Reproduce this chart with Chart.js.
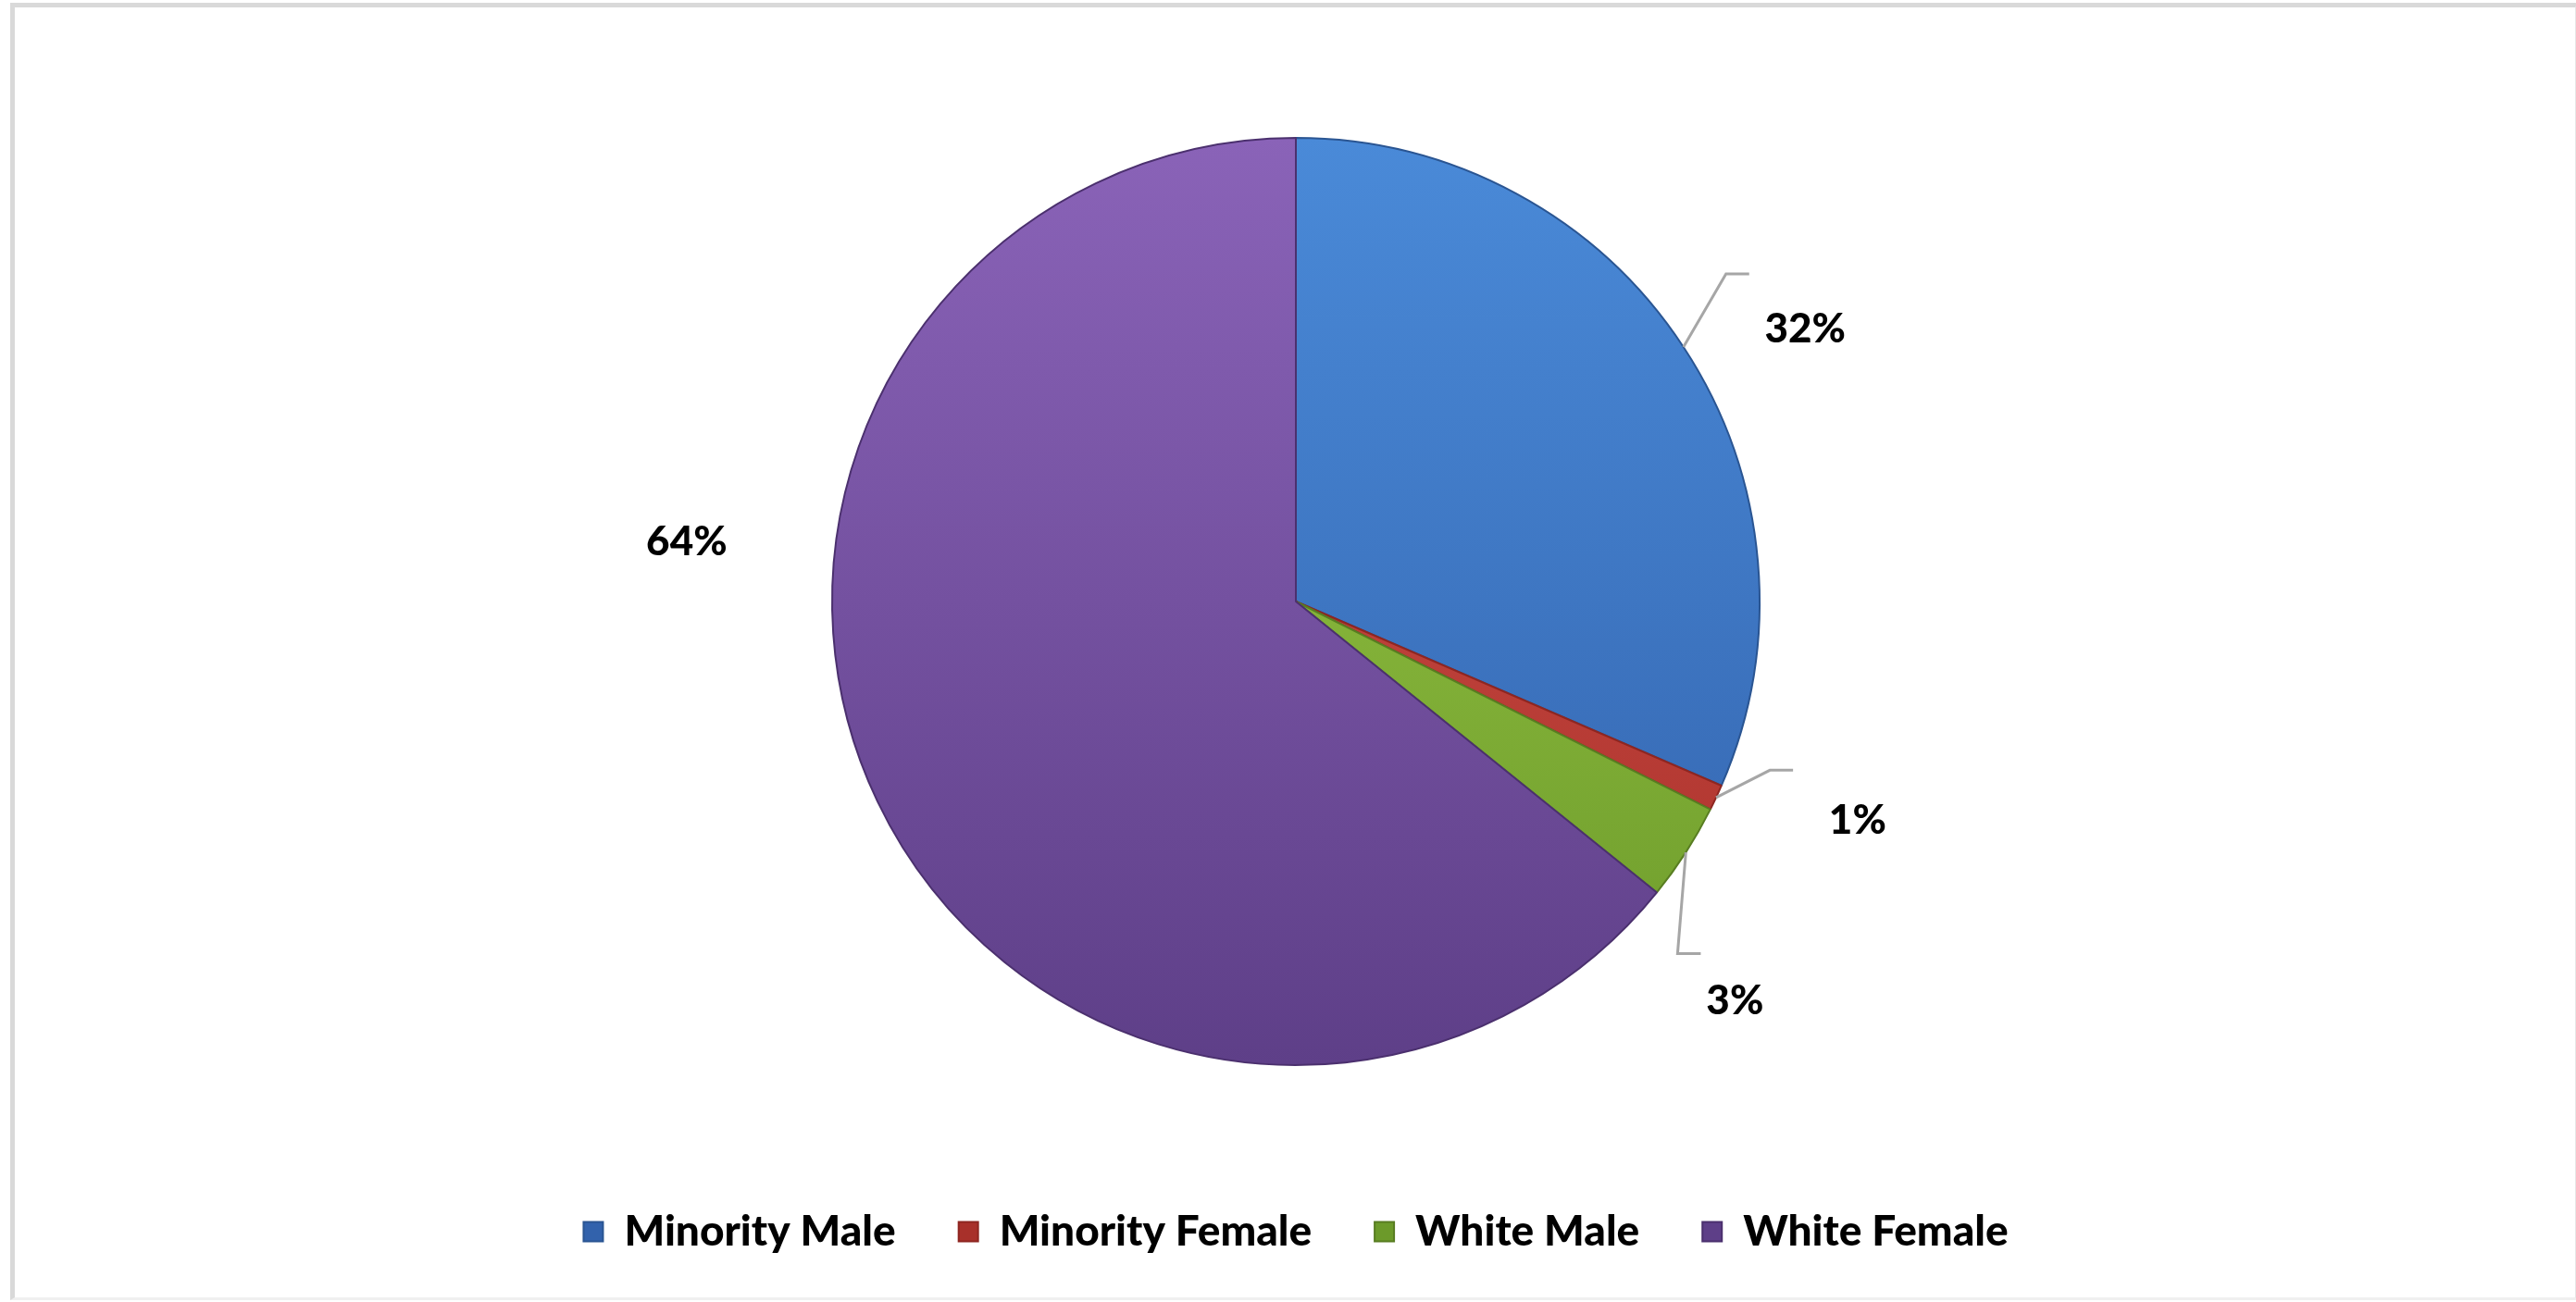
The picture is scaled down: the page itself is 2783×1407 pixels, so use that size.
<!DOCTYPE html>
<html>
<head>
<meta charset="utf-8">
<script src="https://cdn.jsdelivr.net/npm/chart.js@4/dist/chart.umd.min.js"></script>
<style>
  html, body { margin: 0; padding: 0; background: #ffffff; }
  #wrap { position: relative; width: 2783px; height: 1407px; overflow: hidden; }
  #frame {
    position: absolute; left: 11px; top: 3px; width: 2766px; height: 1394px;
    border-left: 5px solid #d9d9d9; border-top: 5px solid #d9d9d9;
    border-right: 3px solid #e6e6e6; border-bottom: 3px solid #f0f0f0;
    pointer-events: none;
  }
</style>
</head>
<body>
<div id="wrap">
  <canvas id="chartCanvas" width="2783" height="1407"></canvas>
  <div id="frame"></div>
</div>
<script>
// datos del gráfico
var categorias = ["Minority Male", "Minority Female", "White Male", "White Female"];
var valores = [31.5, 0.9, 3.4, 64.2];

// colores (arriba claro, abajo oscuro) y borde de cada porción
var coloresClaros = ["#4a8ad8", "#d4524a", "#9ccb48", "#8a63b8"];
var coloresOscuros = ["#3262ac", "#a8302a", "#6c9a2a", "#5e3f88"];
var bordes = ["#2a5592", "#8e2621", "#587d22", "#4b306e"];

// dónde van las etiquetas: codo de la línea guía y texto (ángulo desde arriba, radio relativo)
var posEtiquetas = [
  { codo: [52.7, 1.166], texto: [61.9, 1.245], linea: true },
  { codo: [109.6, 1.085], texto: [111.3, 1.30], linea: true },
  { codo: [132.7, 1.12], texto: [132.3, 1.28], linea: true },
  { codo: null, texto: [275.6, 1.32], linea: false }
];

var canvas = document.getElementById("chartCanvas");
var ctx = canvas.getContext("2d");

function degradado(context) {
  var chart = context.chart;
  var area = chart.chartArea;
  if (!area) return coloresClaros[context.dataIndex];
  var g = chart.ctx.createLinearGradient(0, area.top, 0, area.bottom);
  g.addColorStop(0, coloresClaros[context.dataIndex]);
  g.addColorStop(1, coloresOscuros[context.dataIndex]);
  return g;
}

function punto(cx, cy, r, gradosDesdeArriba) {
  var a = -Math.PI / 2 + gradosDesdeArriba * Math.PI / 180;
  return { x: cx + r * Math.cos(a), y: cy + r * Math.sin(a) };
}

var etiquetasPlugin = {
  id: "etiquetas",
  afterDatasetsDraw: function (chart) {
    var meta = chart.getDatasetMeta(0);
    var c = chart.ctx;
    var total = valores.reduce(function (s, v) { return s + v; }, 0);
    c.save();
    meta.data.forEach(function (arc, i) {
      var p = arc.getProps(["x", "y", "startAngle", "endAngle", "outerRadius"], true);
      var R = p.outerRadius;
      var pos = posEtiquetas[i];
      if (pos.linea) {
        var mid = (p.startAngle + p.endAngle) / 2;
        var ini = { x: p.x + R * Math.cos(mid), y: p.y + R * Math.sin(mid) };
        var codo = punto(p.x, p.y, R * pos.codo[1], pos.codo[0]);
        c.strokeStyle = "#a6a6a6";
        c.lineWidth = 3;
        c.beginPath();
        c.moveTo(ini.x, ini.y);
        c.lineTo(codo.x, codo.y);
        c.lineTo(codo.x + R * 0.05, codo.y);
        c.stroke();
      }
      var t = punto(p.x, p.y, R * pos.texto[1], pos.texto[0]);
      c.fillStyle = "#000000";
      c.font = "900 44px Lato, 'Open Sans', sans-serif";
      c.textAlign = "center";
      c.textBaseline = "middle";
      c.fillText(Math.round(valores[i] / total * 100) + "%", t.x, t.y);
    });
    c.restore();
  }
};

var chartConfig = {
  type: "pie",
  data: {
    labels: categorias,
    datasets: [
      {
        data: valores,
        backgroundColor: degradado,
        borderColor: bordes,
        borderWidth: 2,
        hoverOffset: 0
      }
    ]
  },
  options: {
    responsive: false,
    animation: false,
    layout: {
      padding: { top: 148, bottom: 43, left: 17, right: 0 }
    },
    plugins: {
      tooltip: { enabled: false },
      legend: {
        position: "bottom",
        title: {
          display: true,
          text: " ",
          font: { size: 20 },
          padding: { top: 32, bottom: 32 }
        },
        labels: {
          boxWidth: 21,
          boxHeight: 21,
          padding: 68,
          color: "#000000",
          font: { family: "Lato, 'Open Sans', sans-serif", size: 46, weight: "900" }
        }
      }
    }
  },
  plugins: [etiquetasPlugin]
};

var myChart = new Chart(ctx, chartConfig);
</script>
</body>
</html>
